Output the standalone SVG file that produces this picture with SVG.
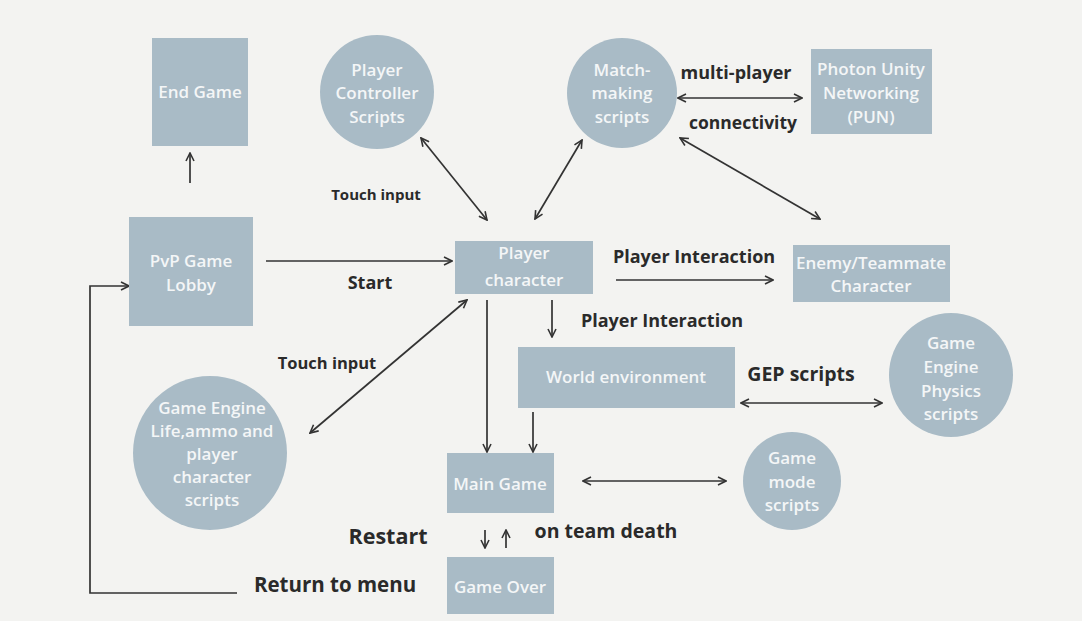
<svg xmlns="http://www.w3.org/2000/svg" width="1082" height="621" viewBox="0 0 1082 621">
<defs>
<style>
.n{fill:#a9bbc6}
.t{font-family:"Open Sans",Lato,sans-serif;font-weight:600;fill:#f4f6f7;font-size:17px;text-anchor:middle}
.l{font-family:"Open Sans",Lato,sans-serif;font-weight:700;fill:#2a2a2a;text-anchor:middle}
.c{stroke:#333;stroke-width:1.7;fill:none}
</style>
<marker id="a" viewBox="0 0 10 10" refX="9" refY="5" markerWidth="10" markerHeight="10" markerUnits="userSpaceOnUse" orient="auto-start-reverse">
<path d="M1,1 L9,5 L1,9" fill="none" stroke="#333" stroke-width="1.6"/>
</marker>
</defs>
<rect width="1082" height="621" fill="#f3f3f1"/>

<g id="connectors">
<line class="c" x1="190" y1="183" x2="190" y2="153" marker-end="url(#a)"/>
<line class="c" x1="266" y1="261" x2="452" y2="261" marker-end="url(#a)"/>
<line class="c" x1="421" y1="138" x2="487" y2="220" marker-start="url(#a)" marker-end="url(#a)"/>
<line class="c" x1="582" y1="140" x2="535" y2="219" marker-start="url(#a)" marker-end="url(#a)"/>
<line class="c" x1="678" y1="98" x2="802" y2="98" marker-start="url(#a)" marker-end="url(#a)"/>
<line class="c" x1="680" y1="138" x2="820" y2="219" marker-start="url(#a)" marker-end="url(#a)"/>
<line class="c" x1="616" y1="280" x2="773" y2="280" marker-end="url(#a)"/>
<line class="c" x1="552" y1="300" x2="552" y2="337" marker-end="url(#a)"/>
<line class="c" x1="467" y1="300" x2="310" y2="433" marker-start="url(#a)" marker-end="url(#a)"/>
<line class="c" x1="487" y1="300" x2="487" y2="452" marker-end="url(#a)"/>
<line class="c" x1="533" y1="412" x2="533" y2="452" marker-end="url(#a)"/>
<line class="c" x1="741" y1="403" x2="882" y2="403" marker-start="url(#a)" marker-end="url(#a)"/>
<line class="c" x1="583" y1="481" x2="726" y2="481" marker-start="url(#a)" marker-end="url(#a)"/>
<line class="c" x1="485" y1="530" x2="485" y2="548" marker-end="url(#a)"/>
<line class="c" x1="506" y1="548" x2="506" y2="530" marker-end="url(#a)"/>
<polyline class="c" points="237,593 90,593 90,286 129,286" marker-end="url(#a)"/>
</g>

<g id="labels">
<text class="l" x="376" y="200" font-size="15">Touch input</text>
<text class="l" x="736" y="79" font-size="18">multi-player</text>
<text class="l" x="743" y="129" font-size="17.5">connectivity</text>
<text class="l" x="370" y="289" font-size="18">Start</text>
<text class="l" x="694" y="263" font-size="18">Player Interaction</text>
<text class="l" x="662" y="327" font-size="18">Player Interaction</text>
<text class="l" x="327" y="369" font-size="16.5">Touch input</text>
<text class="l" x="801" y="381" font-size="19.5">GEP scripts</text>
<text class="l" x="388" y="544" font-size="21.5">Restart</text>
<text class="l" x="606" y="538" font-size="19.5">on team death</text>
<text class="l" x="335" y="592" font-size="20.5">Return to menu</text>
</g>

<g id="end-game"><rect class="n" x="152" y="38" width="96" height="108"/><text class="t" x="200" y="98" font-size="18">End Game</text></g>
<g id="player-controller"><circle class="n" cx="377" cy="92" r="57"/><text class="t" x="377" y="76">Player</text><text class="t" x="377" y="99">Controller</text><text class="t" x="377" y="123">Scripts</text></g>
<g id="matchmaking"><circle class="n" cx="622" cy="93" r="55"/><text class="t" x="622" y="76">Match-</text><text class="t" x="622" y="99">making</text><text class="t" x="622" y="123">scripts</text></g>
<g id="photon"><rect class="n" x="811" y="49" width="121" height="85"/><text class="t" x="871" y="75">Photon Unity</text><text class="t" x="871" y="99">Networking</text><text class="t" x="871" y="123">(PUN)</text></g>
<g id="lobby"><rect class="n" x="129" y="217" width="124" height="109"/><text class="t" x="191" y="267">PvP Game</text><text class="t" x="191" y="291">Lobby</text></g>
<g id="player-character"><rect class="n" x="455" y="241" width="138" height="53"/><text class="t" x="524" y="259">Player</text><text class="t" x="524" y="286">character</text></g>
<g id="enemy"><rect class="n" x="793" y="245" width="157" height="57"/><text class="t" x="871" y="269">Enemy/Teammate</text><text class="t" x="871" y="292">Character</text></g>
<g id="world"><rect class="n" x="518" y="347" width="217" height="61"/><text class="t" x="626" y="383">World environment</text></g>
<g id="physics"><circle class="n" cx="951" cy="375" r="62"/><text class="t" x="951" y="349">Game</text><text class="t" x="951" y="373">Engine</text><text class="t" x="951" y="397">Physics</text><text class="t" x="951" y="420">scripts</text></g>
<g id="life"><circle class="n" cx="210" cy="453" r="77"/><text class="t" x="212" y="414">Game Engine</text><text class="t" x="212" y="437">Life,ammo and</text><text class="t" x="212" y="460">player</text><text class="t" x="212" y="483">character</text><text class="t" x="212" y="506">scripts</text></g>
<g id="main-game"><rect class="n" x="447" y="453" width="107" height="60"/><text class="t" x="500" y="490">Main Game</text></g>
<g id="game-mode"><circle class="n" cx="792" cy="481" r="49"/><text class="t" x="792" y="464">Game</text><text class="t" x="792" y="488">mode</text><text class="t" x="792" y="511">scripts</text></g>
<g id="game-over"><rect class="n" x="447" y="557" width="107" height="57"/><text class="t" x="500" y="593">Game Over</text></g>
</svg>
